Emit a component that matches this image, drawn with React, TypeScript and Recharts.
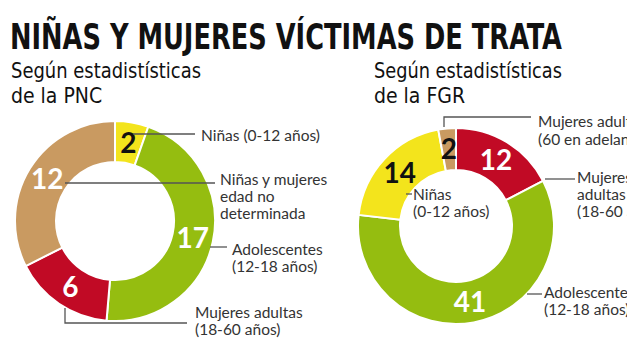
import React from 'react';
import { PieChart, Pie, Cell } from 'recharts';

// PNC (Policía Nacional Civil)
const pncCategories = ['Niñas (0-12 años)', 'Adolescentes (12-18 años)', 'Mujeres adultas (18-60 años)', 'Niñas y mujeres edad no determinada'];
const pncValues = [2, 17, 6, 12];
// FGR (Fiscalía General de la República)
const fgrCategories = ['Mujeres adultas (18-60 años)', 'Adolescentes (12-18 años)', 'Niñas (0-12 años)', 'Mujeres adultas (60 en adelante)'];
const fgrValues = [12, 41, 14, 2];

const YELLOW = '#f3e41c';
const GREEN = '#95bd10';
const RED = '#c10a25';
const TAN = '#c99a61';
const pncColors = [YELLOW, GREEN, RED, TAN];
const pncLabelColors = ['#111', '#fff', '#fff', '#fff'];
const fgrColors = [RED, GREEN, YELLOW, TAN];
const fgrLabelColors = ['#fff', '#fff', '#111', '#111'];

const pncData = pncCategories.map((name, i) => ({ name, value: pncValues[i] }));
const fgrData = fgrCategories.map((name, i) => ({ name, value: fgrValues[i] }));

const NUM_FONT = "Lato, 'Open Sans', sans-serif";
const LABEL_FONT = "Lato, 'Open Sans', sans-serif";
const COND_FONT = "'Liberation Sans Narrow', 'DejaVu Sans Condensed', Roboto, sans-serif";

const makeLabel = (colors: string[]) => (props: any) => {
  const { cx, cy, midAngle, innerRadius, outerRadius, value, index } = props;
  const r = (innerRadius + outerRadius) / 2;
  const rad = Math.PI / 180;
  const x = cx + r * Math.cos(-midAngle * rad);
  const y = cy + r * Math.sin(-midAngle * rad);
  return (
    <text
      x={x}
      y={y + 10}
      fill={colors[index]}
      textAnchor="middle"
      fontFamily={NUM_FONT}
      fontWeight={700}
      fontSize={28}
    >
      {value}
    </text>
  );
};

const Label = ({ x, y, lines, gap = 17 }: { x: number; y: number; lines: string[]; gap?: number }) => (
  <text x={x} y={y} fontFamily={LABEL_FONT} fontSize={15.5} fill="#333">
    {lines.map((l, i) => (
      <tspan key={i} x={x} y={y + i * gap}>
        {l}
      </tspan>
    ))}
  </text>
);

export default function App() {
  return (
    <div style={{ position: 'absolute', left: 0, top: 0, width: 627, height: 360, background: '#fff', overflow: 'hidden' }}>
      <PieChart width={627} height={360} style={{ position: 'absolute', left: 0, top: 0 }}>
        <Pie
          data={pncData}
          dataKey="value"
          nameKey="name"
          cx={110}
          cy={216}
          innerRadius={59}
          outerRadius={100}
          startAngle={90}
          endAngle={-270}
          stroke="#fff"
          strokeWidth={2}
          labelLine={false}
          label={makeLabel(pncLabelColors)}
          isAnimationActive={false}
        >
          {pncData.map((d, i) => (
            <Cell key={d.name} fill={pncColors[i]} />
          ))}
        </Pie>
        <Pie
          data={fgrData}
          dataKey="value"
          nameKey="name"
          cx={451}
          cy={221}
          innerRadius={56}
          outerRadius={98}
          startAngle={90}
          endAngle={-270}
          stroke="#fff"
          strokeWidth={2}
          labelLine={false}
          label={makeLabel(fgrLabelColors)}
          isAnimationActive={false}
        >
          {fgrData.map((d, i) => (
            <Cell key={d.name} fill={fgrColors[i]} />
          ))}
        </Pie>
      </PieChart>
      <svg width={627} height={360} style={{ position: 'absolute', left: 0, top: 0, pointerEvents: 'none' }}>
        <text x={10} y={49} fontFamily={COND_FONT} fontWeight={700} fontSize={36} fill="#111" textLength={552} lengthAdjust="spacingAndGlyphs">
          NIÑAS Y MUJERES VÍCTIMAS DE TRATA
        </text>
        <text x={11} y={78} fontFamily={COND_FONT} fontSize={21} fill="#111" textLength={190} lengthAdjust="spacingAndGlyphs">
          Según estadistísticas
        </text>
        <text x={11} y={103} fontFamily={COND_FONT} fontSize={21} fill="#111">
          de la PNC
        </text>
        <text x={374} y={78} fontFamily={COND_FONT} fontSize={21} fill="#111" textLength={188} lengthAdjust="spacingAndGlyphs">
          Según estadistísticas
        </text>
        <text x={374} y={103} fontFamily={COND_FONT} fontSize={21} fill="#111">
          de la FGR
        </text>

        <g stroke="#555" strokeWidth={1.3} fill="none">
          <line x1={133} y1={134} x2={195} y2={134} />
          <line x1={65} y1={183} x2={215} y2={183} />
          <line x1={210} y1={247} x2={227} y2={247} />
          <polyline points="65,308 65,323 187,323" />
          <polyline points="444,127 444,117 531,117" />
          <line x1={545} y1={179} x2={575} y2={179} />
          <line x1={406} y1={194} x2={412} y2={194} />
          <line x1={527} y1={294} x2={542} y2={294} />
        </g>

        <Label x={201} y={141} lines={['Niñas (0-12 años)']} />
        <Label x={220} y={185} lines={['Niñas y mujeres', 'edad no', 'determinada']} />
        <Label x={232} y={255} lines={['Adolescentes', '(12-18 años)']} />
        <Label x={195} y={318} lines={['Mujeres adultas', '(18-60 años)']} />

        <Label x={538} y={127} lines={['Mujeres adultas', '(60 en adelante)']} gap={18} />
        <Label x={577} y={183} lines={['Mujeres', 'adultas', '(18-60 años)']} />
        <Label x={413} y={200} lines={['Niñas', '(0-12 años)']} />
        <Label x={544} y={298} lines={['Adolescentes', '(12-18 años)']} />
      </svg>
    </div>
  );
}
